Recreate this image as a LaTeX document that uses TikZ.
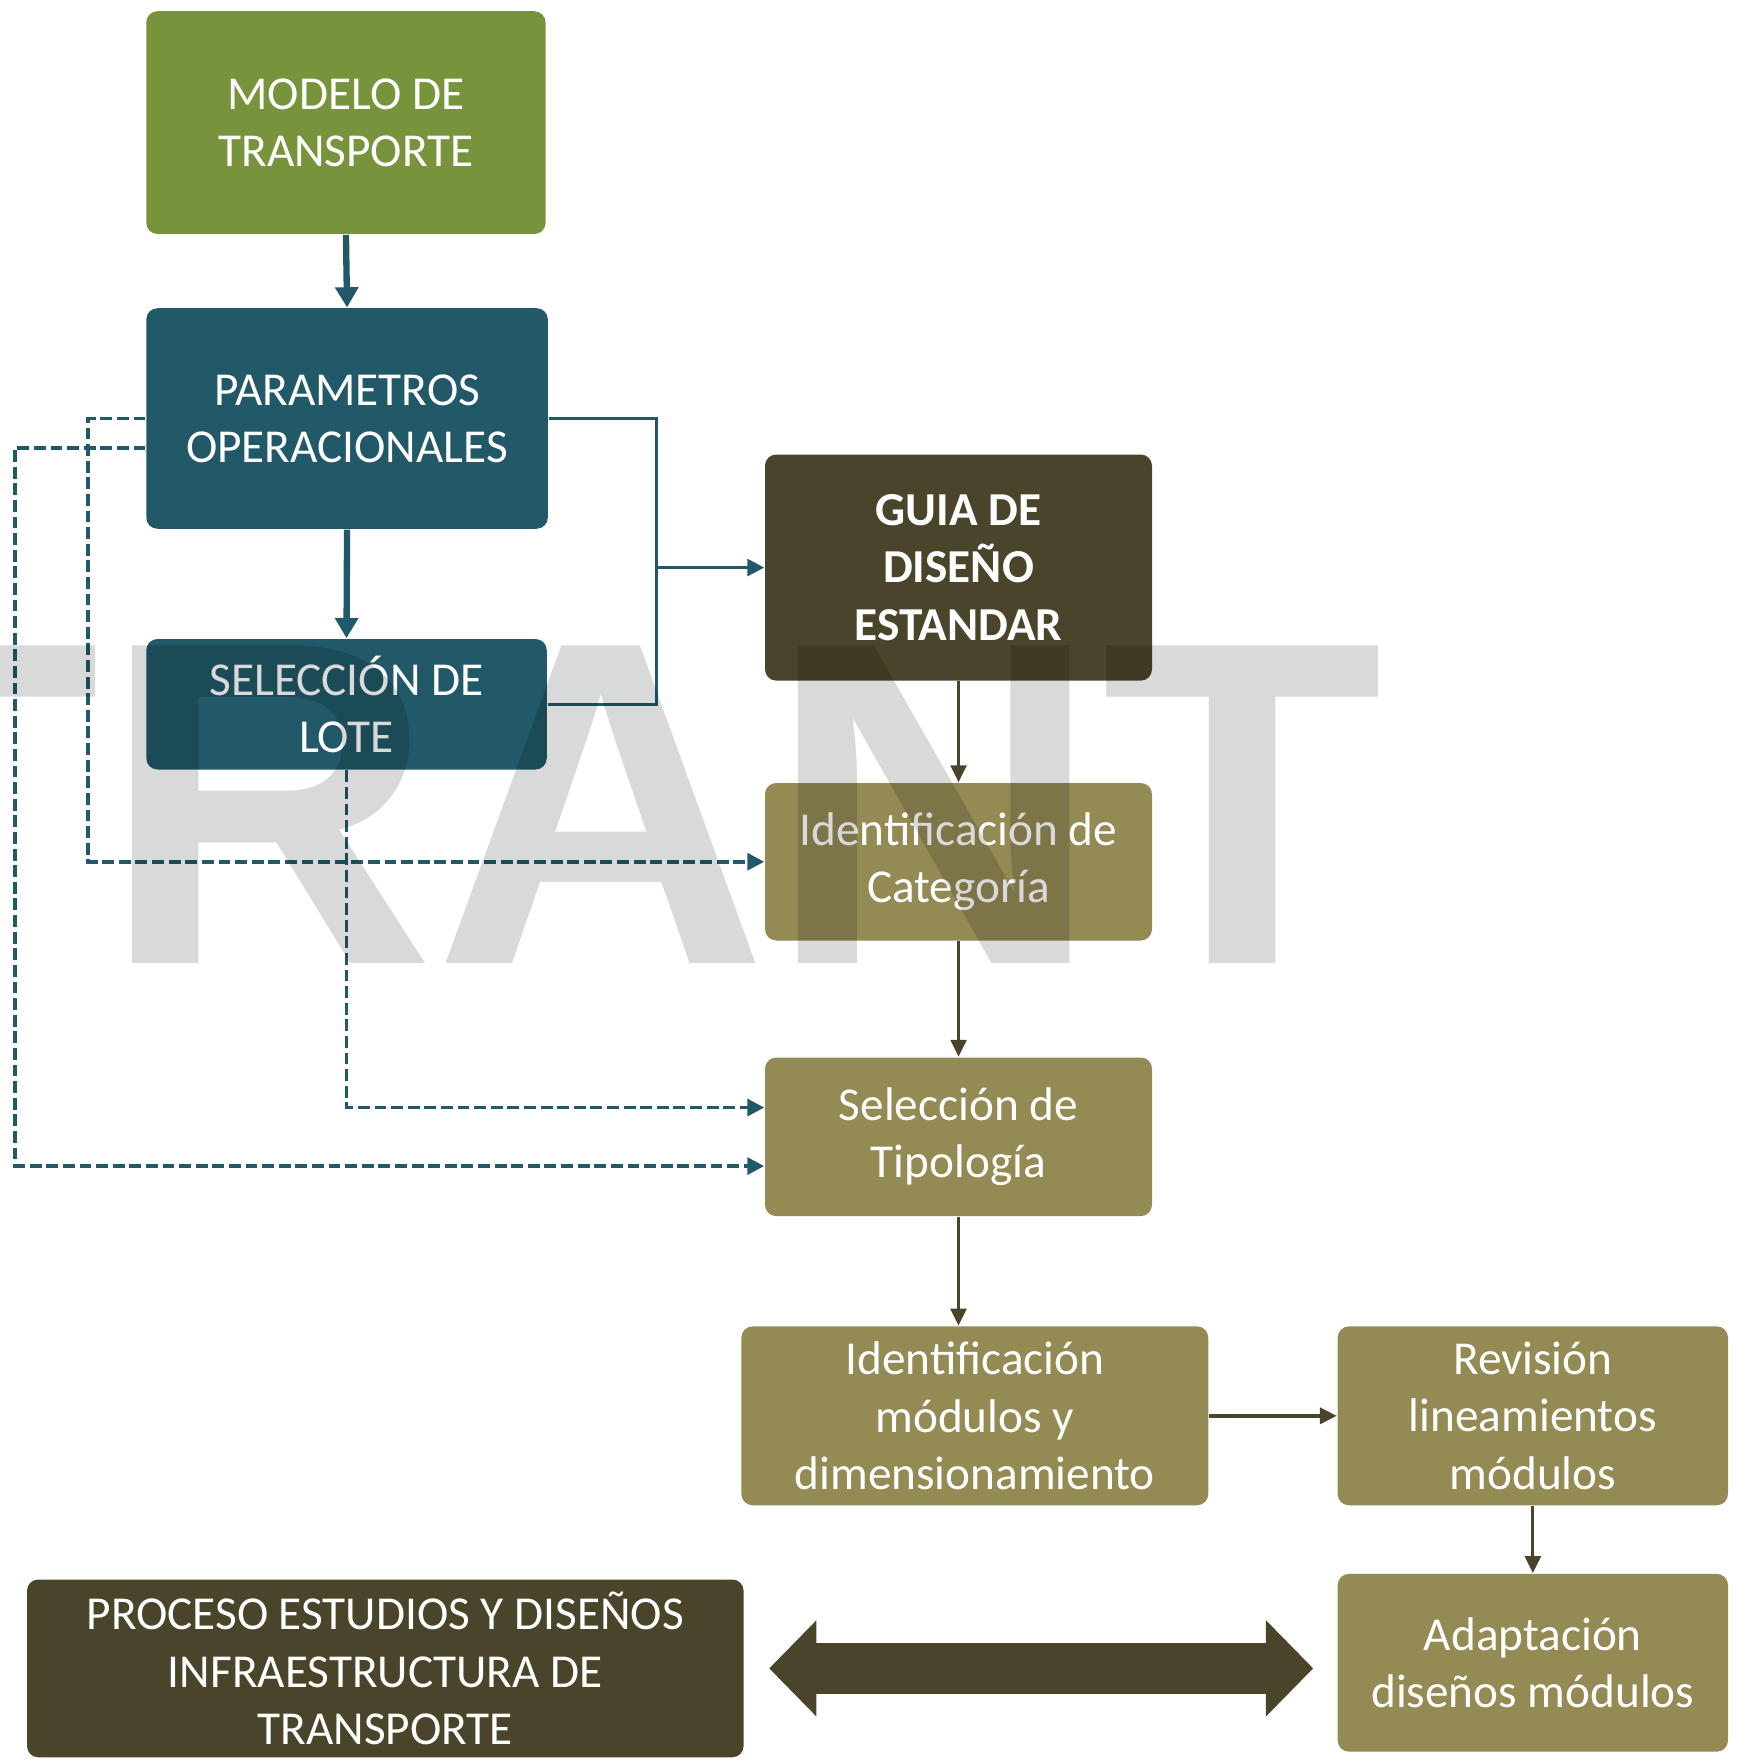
\documentclass[tikz,border=0pt]{standalone}
\usepackage{fontspec}
\setmainfont{Carlito}
\newfontfamily\markfont{Liberation Sans}
\usepackage{tikz}
\usetikzlibrary{calc,shapes,arrows.meta,positioning}
\definecolor{verde}{HTML}{77933C}
\definecolor{azul}{HTML}{215968}
\definecolor{cafe}{HTML}{4A452A}
\definecolor{arena}{HTML}{948A54}

\begin{document}
\begin{tikzpicture}[
    caja/.style={rectangle, rounded corners=0.1cm, text=white, align=center, inner sep=0pt,
      font=\fontsize{11.95}{14.5}\selectfont},
    gruesa/.style={azul, line width=1.6pt, -{Triangle[length=0.18cm,width=0.2cm]}},
    linea/.style={azul, line width=0.8pt},
    punteada/.style={azul, line width=0.9pt, dash pattern=on 3pt off 1.2pt,
      -{Triangle[length=0.15cm,width=0.15cm]}},
    flecha/.style={cafe, line width=0.8pt, -{Triangle[length=0.15cm,width=0.14cm]}},
    dobleflecha/.style={cafe, line width=0.45cm,
      {Triangle[length=0.42cm,width=0.83cm]}-{Triangle[length=0.42cm,width=0.83cm]},
      shorten <=0.22cm, shorten >=0.21cm},
    marca/.style={inner sep=0pt, text=black, text opacity=0.15,
      font=\markfont\bfseries\fontsize{116.8}{120}\selectfont}]
  \useasboundingbox (0,0) rectangle (15.56,-15.68);

  % columna izquierda
  \node[caja, fill=verde, minimum width=3.55cm, minimum height=1.98cm] (modelo) at (3.075,-1.09) {MODELO DE\\TRANSPORTE};
  \node[caja, fill=azul, minimum width=3.57cm, minimum height=1.96cm] (param) at (3.085,-3.72) {PARAMETROS\\OPERACIONALES};
  \node[caja, fill=azul, minimum width=3.56cm, minimum height=1.16cm] (lote) at (3.08,-6.26) {SELECCIÓN DE\\LOTE};

  % columna central
  \node[caja, fill=cafe, font=\fontsize{11.95}{14.5}\selectfont\bfseries, minimum width=3.44cm, minimum height=2.01cm] (guia) at (8.52,-5.045) {GUIA DE\\DISEÑO\\ESTANDAR};
  \node[caja, fill=arena, minimum width=3.44cm, minimum height=1.40cm] (categ) at (8.52,-7.66) {Identificación de\\Categoría};
  \node[caja, fill=arena, minimum width=3.44cm, minimum height=1.41cm] (tipol) at (8.52,-10.105) {Selección de\\Tipología};
  \node[caja, fill=arena, minimum width=4.15cm, minimum height=1.59cm] (modulos) at (8.665,-12.585) {Identificación\\módulos y\\dimensionamiento};

  % columna derecha y abajo
  \node[caja, fill=arena, minimum width=3.47cm, minimum height=1.59cm] (revision) at (13.625,-12.585) {Revisión\\lineamientos\\módulos};
  \node[caja, fill=arena, minimum width=3.47cm, minimum height=1.58cm] (adapt) at (13.625,-14.78) {Adaptación\\diseños módulos};
  \node[caja, fill=cafe, minimum width=6.37cm, minimum height=1.58cm] (proceso) at (3.425,-14.83) {PROCESO ESTUDIOS Y DISEÑOS\\INFRAESTRUCTURA DE\\TRANSPORTE};

  % conectores
  \draw[gruesa] (modelo.south) -- (param.north);
  \draw[gruesa] (param.south) -- (lote.north);
  \path (guia.west) ++(-0.96,0) coordinate (union);
  \draw[linea] (param.east) -| (union) |- (lote.east);
  \draw[linea, -{Triangle[length=0.15cm,width=0.15cm]}] (union) -- (guia.west);

  \draw[punteada] (param.west) -- ++(-0.51,0) |- (categ.west);
  \draw[punteada] ([yshift=-0.26cm]param.west) -- ++(-1.16,0) |- ([yshift=-0.26cm]tipol.west);
  \draw[punteada] (lote.south) |- ([yshift=0.26cm]tipol.west);

  \foreach \a/\b in {guia/categ, categ/tipol, revision/adapt}
    \draw[flecha] (\a.south) -- (\b.north);
  \draw[flecha] (tipol.south) -- (tipol.south |- modulos.north);
  \draw[flecha, line width=1pt] (modulos.east) -- (revision.west);
  \draw[dobleflecha] (proceso.east) -- (proceso.east -| adapt.west);

  % marca de agua
  \node[marca] (agua) at (5.345,-7.15) {TRANT};
\end{tikzpicture}
\end{document}
